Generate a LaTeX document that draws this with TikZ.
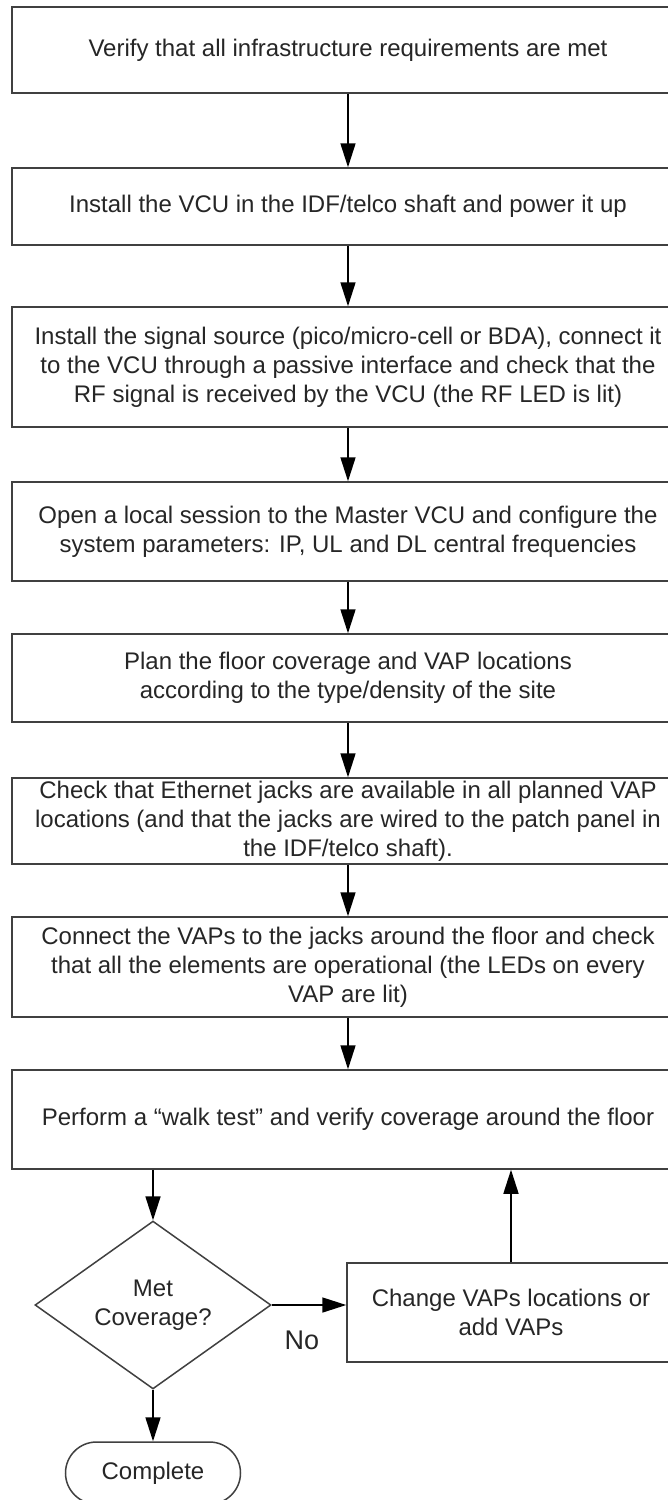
\documentclass[tikz,border=0pt]{standalone}
\usepackage{fontspec}
\setmainfont{Liberation Sans}
\usetikzlibrary{arrows.meta,shapes.geometric,shapes.misc}
\begin{document}
\begin{tikzpicture}[x=1pt,y=-1pt,
  stepbox/.style={rectangle, draw=black!75, line width=1.5pt, minimum width=672pt,
    inner sep=0pt, align=center, text=black!85, font=\fontsize{24}{29}\selectfont},
  decision/.style={diamond, draw=black!75, line width=1.5pt, minimum width=236pt,
    minimum height=153pt, inner sep=0pt, align=center, text=black!85,
    font=\fontsize{24}{29}\selectfont},
  terminal/.style={rounded rectangle, draw=black!75, line width=1.5pt, minimum width=175pt,
    minimum height=62pt, inner sep=0pt, text=black!85, font=\fontsize{24}{29}\selectfont},
  flow/.style={-{Triangle[length=24pt,width=15pt]}, line width=1.6pt, draw=black}]
\useasboundingbox (0,0) rectangle (668,1500);
\clip (0,0) rectangle (668,1500);
\fill[white] (0,0) rectangle (668,1500);
\node [stepbox, minimum height=86pt] (verify) at (348,50) {Verify that all infrastructure requirements are met};
\node [stepbox, minimum height=77pt] (vcu) at (348,206.5) {Install the VCU in the IDF/telco shaft and power it up};
\node [stepbox, minimum height=120pt] (source) at (348,367) {Install the signal source (pico/micro-cell or BDA), connect it\\to the VCU through a passive interface and check that the\\RF signal is received by the VCU (the RF LED is lit)};
\node [stepbox, minimum height=99pt] (session) at (348,531.5) {Open a local session to the Master VCU and configure the\\system parameters: IP, UL and DL central frequencies};
\node [stepbox, minimum height=88pt] (plan) at (348,678) {Plan the floor coverage and VAP locations\\according to the type/density of the site};
\node [stepbox, minimum height=86pt] (jacks) at (348,821) {Check that Ethernet jacks are available in all planned VAP\\locations (and that the jacks are wired to the patch panel in\\the IDF/telco shaft).};
\node [stepbox, minimum height=100pt] (vaps) at (348,967) {Connect the VAPs to the jacks around the floor and check\\that all the elements are operational (the LEDs on every\\VAP are lit)};
\node [stepbox, minimum height=99pt] (walk) at (348,1119.5) {Perform a “walk test” and verify coverage around the floor};
\node [decision] (met) at (153,1305) {Met\\Coverage?};
\node [stepbox, minimum width=328pt, minimum height=99pt] (change) at (511,1312.5) {Change VAPs locations or\\add VAPs};
\node [terminal] (done) at (153,1473) {Complete};
\node [text=black!85, font=\fontsize{27}{30}\selectfont] (no) at (302,1340) {No};
\draw [flow] (verify) -- (vcu);
\draw [flow] (vcu) -- (source);
\draw [flow] (source) -- (session);
\draw [flow] (session) -- (plan);
\draw [flow] (plan) -- (jacks);
\draw [flow] (jacks) -- (vaps);
\draw [flow] (vaps) -- (walk);
\draw [flow] (walk.south -| met.north) -- (met.north);
\draw [flow] (met.east) -- (met.east -| change.west);
\draw [flow] (change.north) -- (change.north |- walk.south);
\draw [flow] (met.south) -- (done.north);
\end{tikzpicture}
\end{document}
